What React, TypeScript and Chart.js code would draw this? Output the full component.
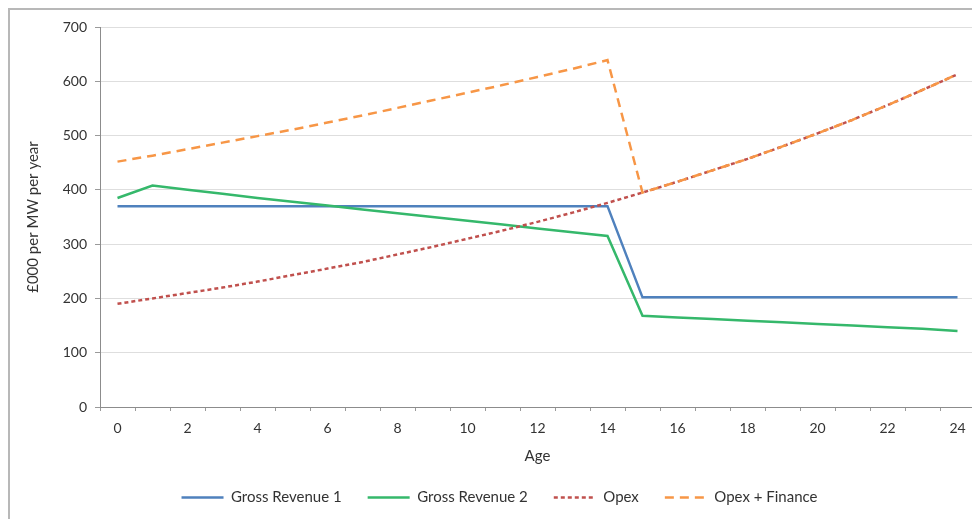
import React, { useEffect, useRef } from "react";
import { Chart, registerables } from "chart.js";

Chart.register(...registerables);

const ages = ["0","1","2","3","4","5","6","7","8","9","10","11","12","13","14","15","16","17","18","19","20","21","22","23","24"];
const grossRevenue1 = [370,370,370,370,370,370,370,370,370,370,370,370,370,370,370,202,202,202,202,202,202,202,202,202,202];
const grossRevenue2 = [385,408,400,393,385,378,371,364,357,350,343,336,329,322,315,168,165,162,159,156,153,150,147,144,140];
const opex = [190,200,210,220,231,243,255,267,281,295,310,325,341,358,376,395,415,436,457,480,504,529,556,584,613];
const opexFinance = [452,463,475,487,499,511,524,537,551,565,579,593,608,623,639,395,415,436,457,480,504,529,556,584,613];
const yTicks = [0,100,200,300,400,500,600,700];

export default function App() {
  const ref = useRef<HTMLCanvasElement | null>(null);
  useEffect(() => {
    if (!ref.current) return;
    const font = "Lato";
    const chart = new Chart(ref.current, {
      type: "line",
      data: {
        labels: ages,
        datasets: [
          { label: "Gross Revenue 1", data: grossRevenue1, borderColor: "#4F81BD", backgroundColor: "#4F81BD", borderWidth: 2.5, pointRadius: 0, order: 3 },
          { label: "Gross Revenue 2", data: grossRevenue2, borderColor: "#35B86B", backgroundColor: "#35B86B", borderWidth: 2.5, pointRadius: 0, order: 2 },
          { label: "Opex", data: opex, borderColor: "#C0504D", backgroundColor: "#C0504D", borderWidth: 2.5, borderDash: [4, 3], pointRadius: 0, order: 1 },
          { label: "Opex + Finance", data: opexFinance, borderColor: "#F79646", backgroundColor: "#F79646", borderWidth: 2.5, borderDash: [9, 6], pointRadius: 0, order: 0 },
        ],
      },
      options: {
        responsive: false,
        animation: false,
        layout: { padding: { left: 14, right: 5, top: 17, bottom: 4 } },
        plugins: {
          tooltip: { enabled: false },
          legend: {
            position: "bottom",
            labels: {
              usePointStyle: true,
              pointStyle: "line",
              pointStyleWidth: 42,
              padding: 26,
              color: "#333",
              font: { family: font, size: 15 },
              sort: (a: any, b: any) => a.datasetIndex - b.datasetIndex,
              generateLabels: (c: any) => {
                const items = Chart.defaults.plugins.legend.labels.generateLabels(c);
                return items.map((it: any) => {
                  const ds: any = c.data.datasets[it.datasetIndex];
                  return { ...it, lineDash: ds.borderDash || [], lineWidth: ds.borderWidth, strokeStyle: ds.borderColor, fillStyle: ds.borderColor, pointStyle: "line" };
                });
              },
            },
          },
        },
        scales: {
          x: {
            offset: true,
            grid: { display: true, drawOnChartArea: false, offset: true, tickLength: 4, tickColor: "#9a9a9a" },
            border: { color: "#8c8c8c", width: 1 },
            ticks: {
              autoSkip: false,
              maxRotation: 0,
              padding: 9,
              color: "#333",
              font: { family: font, size: 14 },
              callback: (_v: any, i: number) => (i % 2 === 0 ? ages[i] : ""),
            },
            title: { display: true, text: "Age", color: "#333", font: { family: font, size: 15, lineHeight: 1 }, padding: { top: 0, bottom: 0 } },
            afterFit: (s: any) => { s.height = 57; },
          },
          y: {
            min: 0,
            max: 700,
            afterBuildTicks: (s: any) => { s.ticks = yTicks.map((v) => ({ value: v })); },
            grid: { color: "#dedede", tickLength: 5, tickColor: "#9a9a9a" },
            border: { color: "#8c8c8c", width: 1 },
            ticks: { padding: 8, color: "#333", font: { family: font, size: 14 } },
            title: { display: true, text: "£000 per MW per year", color: "#333", font: { family: font, size: 15 }, padding: { top: 0, bottom: 0 } },
            afterFit: (s: any) => { s.width = 76; },
          },
        },
      },
    });
    return () => chart.destroy();
  }, []);
  return (
    <div style={{ width: 972, height: 511, borderLeft: "2px solid #b8b8b8", borderTop: "2px solid #b8b8b8", boxSizing: "border-box", overflow: "hidden", background: "#fff" }}>
      <canvas ref={ref} width={970} height={509} style={{ display: "block" }} />
    </div>
  );
}
